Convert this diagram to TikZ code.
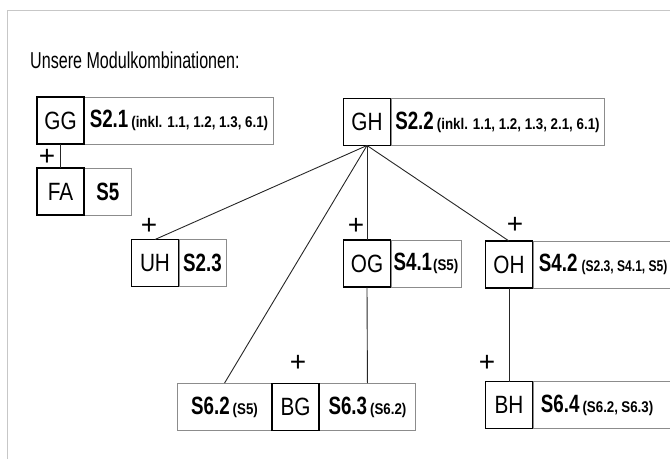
\documentclass[tikz,border=0pt]{standalone}
\usepackage{fontspec}
\setmainfont{Liberation Sans}
\newfontfamily\titlefont[FakeStretch=0.7]{Liberation Sans}
\newfontfamily\modfont[FakeStretch=0.83]{Liberation Sans}
\newfontfamily\codefont[FakeStretch=0.75]{Liberation Sans}
\newfontfamily\notefont[FakeStretch=0.86]{Liberation Sans}
\newfontfamily\slimnote[FakeStretch=0.78]{Liberation Sans}
\usetikzlibrary{positioning}
\newcommand\mcode[3][3pt]{{\codefont\bfseries\fontsize{25}{25}\selectfont #2}\hspace{#1}{\notefont\bfseries\fontsize{15.5}{16}\selectfont #3}}

\tikzset{
  modbox/.style={draw=black, line width=1.2pt, outer sep=0pt, minimum width=47pt, minimum height=47pt, inner sep=0pt, font=\modfont\fontsize{25}{25}\selectfont},
  infobox/.style={draw=black!45, line width=0.9pt, minimum height=47pt, inner sep=0pt, anchor=west},
  plussign/.style={font=\fontsize{28}{28}\selectfont, inner sep=0pt},
  link/.style={draw=black!85, line width=0.9pt},
}

\begin{document}
\begin{tikzpicture}[x=1pt, y=-1pt]
		\useasboundingbox (0,0) rectangle (670,459);
		
		% frame
		\draw[black!22, line width=1pt] (7,459) -- (7,10) -- (670,10);
		
		\node[anchor=base west, inner sep=0pt, font=\titlefont\fontsize{23}{23}\selectfont] (title) at (30,68) {Unsere Modulkombinationen:};
		
		%%%%% MODULES %%%%%
		\node[modbox] (gg) at (60.5,120.5) {GG};
		\node[infobox, minimum width=189pt, right=0pt of gg] (s21) {\mcode{S2.1}{(inkl. 1.1, 1.2, 1.3, 6.1)}};
		\node[modbox] (fa) at (60.5,191.5) {FA};
		\node[infobox, minimum width=47pt, right=0pt of fa] (s5) {\mcode[0pt]{S5}{}};
		
		\node[modbox] (gh) at (367,122) {GH};
		\node[infobox, minimum width=213pt, right=0pt of gh] (s22) {\mcode{S2.2}{(inkl. 1.1, 1.2, 1.3, 2.1, 6.1)}};
		
		\node[modbox] (uh) at (155,263) {UH};
		\node[infobox, minimum width=47pt, right=0pt of uh] (s23) {\mcode[0pt]{S2.3}{}};
		\node[modbox] (og) at (367,263.5) {OG};
		\node[infobox, minimum width=70pt, right=0pt of og] (s41) {\mcode[1pt]{S4.1}{(S5)}};
		\node[modbox] (oh) at (509,264.5) {OH};
		\node[infobox, text width=150pt, inner xsep=6pt, align=left, right=0pt of oh] (s42) {\let\notefont\slimnote\mcode[4pt]{S4.2}{(S2.3, S4.1, S5)}};
		
		\node[modbox] (bg) at (295.5,407) {BG};
		\node[infobox, minimum width=94pt, left=0pt of bg] (s62) {\mcode{S6.2}{(S5)}};
		\node[infobox, minimum width=96pt, right=0pt of bg] (s63) {\mcode{S6.3}{(S6.2)}};
		\node[modbox] (bh) at (509,405) {BH};
		\node[infobox, text width=150pt, inner xsep=8pt, align=left, right=0pt of bh] (s64) {\mcode{S6.4}{(S6.2, S6.3)}};
		
		% black edges over the grey ones
		\foreach \m in {gg,fa,gh,uh,og,oh,bg,bh}
			\draw[line width=1.2pt] (\m.south west) rectangle (\m.north east);
		
		%%%%% PLUS SIGNS %%%%%
		\node[plussign] (pfa) at (47,157) {+};
		\node[plussign] (puh) at (149,226) {+};
		\node[plussign] (pog) at (356,226) {+};
		\node[plussign] (poh) at (515,225) {+};
		\node[plussign] (pbg) at (298,363) {+};
		\node[plussign] (pbh) at (487,363) {+};
		
		%%%%% LINKS %%%%%
		\draw[link] (gg) -- (fa);
		\draw[link] (gh.south) -- (uh.north);
		\draw[link] (gh.south) -- (s62.north);
		\draw[link] (gh.south) -- (og.north);
		\draw[link] (gh.south) -- (oh.north);
		\draw[link] (og.south) -- (s63.north);
		\draw[link] (oh.south) -- (bh.north);
		
	\end{tikzpicture}
\end{document}
